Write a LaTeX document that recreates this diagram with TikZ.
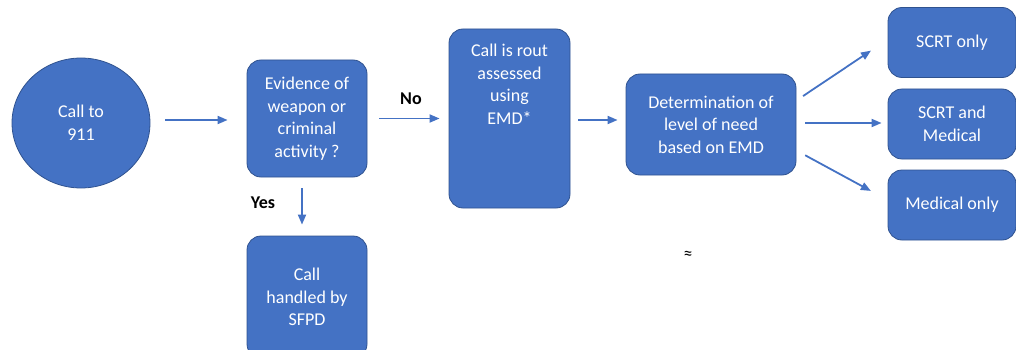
\documentclass[tikz,border=0pt]{standalone}
\usepackage{fontspec}
\setmainfont{Carlito}
\usetikzlibrary{shapes.geometric,arrows.meta}
\definecolor{boxblue}{HTML}{4472C4}
\definecolor{boxedge}{HTML}{2F528F}

\begin{document}
\begin{tikzpicture}[x=1pt,y=1pt,
    every node/.style={font=\fontsize{18}{22.5}\selectfont, align=center, inner sep=0pt},
    box/.style={draw=boxedge, line width=0.8pt, fill=boxblue, text=white, rounded corners=14pt},
    arr/.style={draw=boxblue, line width=1.8pt, -{Triangle[length=10pt,width=8pt]}},
    lbl/.style={font=\fontsize{18}{22.5}\selectfont\bfseries}]

    \useasboundingbox (0,0) rectangle (1016,-350);

    % Main chain
    \node [box, ellipse, rounded corners=0pt, minimum width=138, minimum height=130] (call) at (81,-123) {Call to\\911};
    \node [box, minimum width=120, minimum height=117] (ev) at (307,-118.5) {Evidence of\\weapon or\\criminal\\activity ?};
    \node [box, minimum width=121, minimum height=179] (rout) at (509.5,-118.5) {};
    \node [text=white, anchor=north] (routtxt) at (509.5,-44) {Call is rout\\assessed\\using\\EMD*};
    \node [box, minimum width=170, minimum height=101] (det) at (711,-124.5) {Determination of\\level of need\\based on EMD};
    \node [box, minimum width=120, minimum height=122] (sfpd) at (307,-297) {Call\\handled by\\SFPD};

    \draw [arr, shorten <=15pt, shorten >=19pt] ([yshift=3pt]call.east) -- ([yshift=-1.5pt]ev.west);
    \draw [arr, shorten <=12pt, shorten >=9pt] (ev) -- (rout);
    \draw [arr, shorten <=8pt, shorten >=8pt] ([yshift=-1.5pt]rout.east) -- ([yshift=4.5pt]det.west);
    \draw [arr, shorten <=11pt, shorten >=11pt] ([xshift=-5pt]ev.south) -- ([xshift=-5pt]sfpd.north);

    \node [lbl] (no) at (411,-99) {No};
    \node [lbl] (yes) at (263,-203) {Yes};
    \node [font=\fontsize{18}{20}\selectfont] (approx) at (688,-255) {≈};

    % For each level of need ...
    \foreach \n/\yy/\txt/\sa/\sb/\ha/\hb in {scrt/-42.5/{SCRT only}/24/3/8/20,
                                            both/-124/{SCRT and\\Medical}/1.5/1/9/6,
                                            med/-205/{Medical only}/-26/5/10/19} {
      \node [box, minimum width=128, minimum height=70] (\n) at (952,\yy) {\txt};
      \draw [arr, shorten <=\ha pt, shorten >=\hb pt] ([yshift=\sa pt]det.east) -- ([yshift=\sb pt]\n.west);
    }

  \end{tikzpicture}
\end{document}
